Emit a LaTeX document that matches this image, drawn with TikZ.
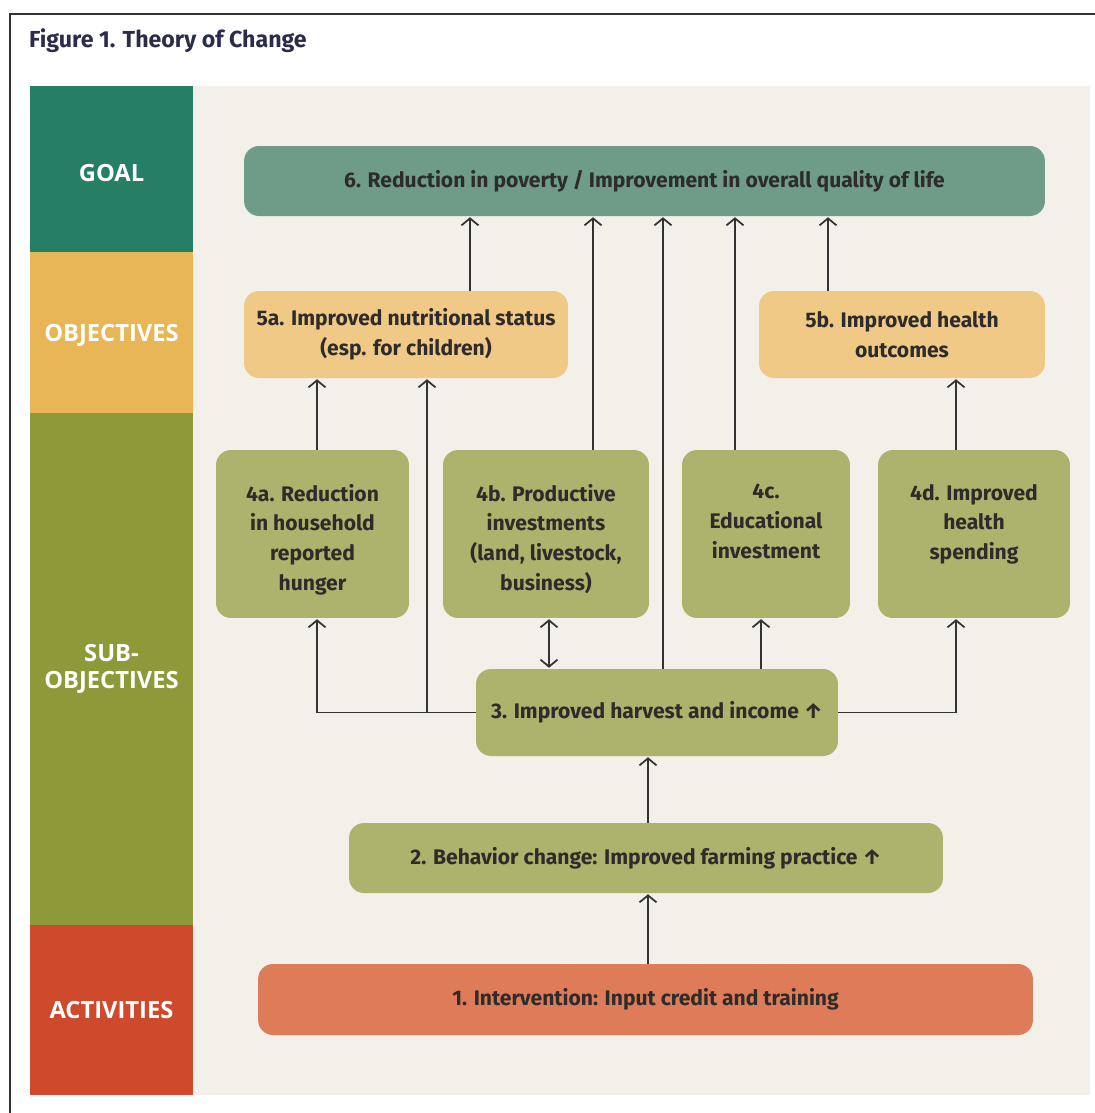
\documentclass[tikz,border=0pt]{standalone}
\usepackage{fontspec}
\setmainfont{Fira Sans}
\newfontfamily\bandfont{Open Sans}
\usetikzlibrary{arrows.meta}
\definecolor{paper}{HTML}{F3F0E9}
\definecolor{ink}{HTML}{2E2B2B}
\definecolor{titleink}{HTML}{2B2C4A}
\definecolor{linegray}{HTML}{333333}
\definecolor{goalband}{HTML}{267F65}
\definecolor{objband}{HTML}{E8B657}
\definecolor{subband}{HTML}{8E9A3A}
\definecolor{actband}{HTML}{CF4A2C}
\definecolor{goalfill}{HTML}{6E9C88}
\definecolor{objfill}{HTML}{F0C986}
\definecolor{subfill}{HTML}{ADB36C}
\definecolor{actfill}{HTML}{DE7C5A}
\newcommand\subtext[1]{\parbox[c][2.0cm][t]{3.3cm}{\centering #1}}

\begin{document}
\begin{tikzpicture}[x=0.02cm,y=-0.02cm,
	>={Straight Barb[length=1.4mm,width=3.4mm]},
	flow/.style={->,draw=linegray,line width=1pt,shorten >=0.5pt},
	box/.style={rounded corners=0.3cm,inner sep=0pt,align=center,text=ink,
		font=\fontsize{12}{17}\selectfont\bfseries},
	band/.style={text=white,align=center,font=\bandfont\fontsize{13.5}{15}\selectfont\bfseries}]
	\useasboundingbox (0,0) rectangle (1095,1113);
	
	%FRAME AND TITLE
	\draw[line width=1.2pt,linegray] (10,1113)--(10,14)--(1095,14);
	\node[anchor=west,text=titleink,font=\fontsize{13.2}{15}\selectfont\bfseries] (title) at (23,41) {Figure 1. Theory of Change};
	\fill[paper] (30,86) rectangle (1090,1095);
	
	%LEFT BANDS
	\fill[goalband] (30,86) rectangle (193,252);
	\fill[objband] (30,252) rectangle (193,413);
	\fill[subband] (30,413) rectangle (193,925);
	\fill[actband] (30,925) rectangle (193,1095);
	\node[band] (goal) at (111.5,173) {GOAL};
	\node[band] (objectives) at (111.5,335) {OBJECTIVES};
	\node[band] (subobjectives) at (111.5,669) {SUB-\\OBJECTIVES};
	\node[band] (activities) at (111.5,1010) {ACTIVITIES};
	
	%BOXES
	\node[box,fill=goalfill,minimum width=16.02cm,minimum height=1.4cm] (h6) at (644.5,181)
		{6. Reduction in poverty / Improvement in overall quality of life};
	\node[box,fill=objfill,minimum width=6.48cm,minimum height=1.74cm] (h5a) at (406,334.5)
		{5a. Improved nutritional status\\(esp. for children)};
	\node[box,fill=objfill,minimum width=5.72cm,minimum height=1.74cm] (h5b) at (902,334.5)
		{5b. Improved health\\outcomes};
	\node[box,fill=subfill,minimum width=3.86cm,minimum height=3.36cm] (h4a) at (312.5,534)
		{\subtext{4a. Reduction\\in household\\reported\\hunger}};
	\node[box,fill=subfill,minimum width=4.12cm,minimum height=3.36cm] (h4b) at (546,534)
		{\subtext{4b. Productive\\investments\\(land, livestock,\\business)}};
	\node[box,fill=subfill,minimum width=3.36cm,minimum height=3.36cm] (h4c) at (766,534)
		{\subtext{4c.\\Educational\\investment}};
	\node[box,fill=subfill,minimum width=3.84cm,minimum height=3.36cm] (h4d) at (974,534)
		{\subtext{4d. Improved\\health\\spending}};
	\node[box,fill=subfill,minimum width=7.24cm,minimum height=1.74cm] (h3) at (657,712.5)
		{3. Improved harvest and income ↑};
	\node[box,fill=subfill,minimum width=11.88cm,minimum height=1.4cm] (h2) at (646,858)
		{2. Behavior change: Improved farming practice ↑};
	\node[box,fill=actfill,minimum width=15.5cm,minimum height=1.42cm] (h1) at (645.5,999.5)
		{1. Intervention: Input credit and training};
	
	%ARROW COLUMNS
	\coordinate (c1) at (470,0);	\coordinate (c2) at (593,0);
	\coordinate (c3) at (663,0);	\coordinate (c4) at (735,0);
	\coordinate (c5) at (828,0);	\coordinate (c6) at (317,0);
	\coordinate (c7) at (956,0);	\coordinate (c8) at (427,0);
	\coordinate (c9) at (761,0);	\coordinate (c10) at (549,0);
	\coordinate (c11) at (648,0);
	
	%INTO THE GOAL
	\draw[flow] (h5a.north -| c1)--(h6.south -| c1);
	\draw[flow] (h4b.north -| c2)--(h6.south -| c2);
	\draw[flow] (h3.north -| c3)--(h6.south -| c3);
	\draw[flow] (h4c.north -| c4)--(h6.south -| c4);
	\draw[flow] (h5b.north -| c5)--(h6.south -| c5);
	
	%INTO THE OBJECTIVES
	\draw[flow] (h4a.north -| c6)--(h5a.south -| c6);
	\draw[flow] (h4d.north -| c7)--(h5b.south -| c7);
	\draw[flow] (h3.west -| c8)--(h5a.south -| c8);
	
	%OUT OF 3
	\draw[flow] (h3.west) -| (h4a.south -| c6);
	\draw[flow] (h3.east) -| (h4d.south -| c7);
	\draw[flow] (h3.north -| c9)--(h4c.south -| c9);
	\draw[flow,<->,shorten <=0.5pt] (h3.north -| c10)--(h4b.south -| c10);
	
	%LOWER CHAIN
	\draw[flow] (h2.north -| c11)--(h3.south -| c11);
	\draw[flow] (h1.north -| c11)--(h2.south -| c11);
\end{tikzpicture}
\end{document}
